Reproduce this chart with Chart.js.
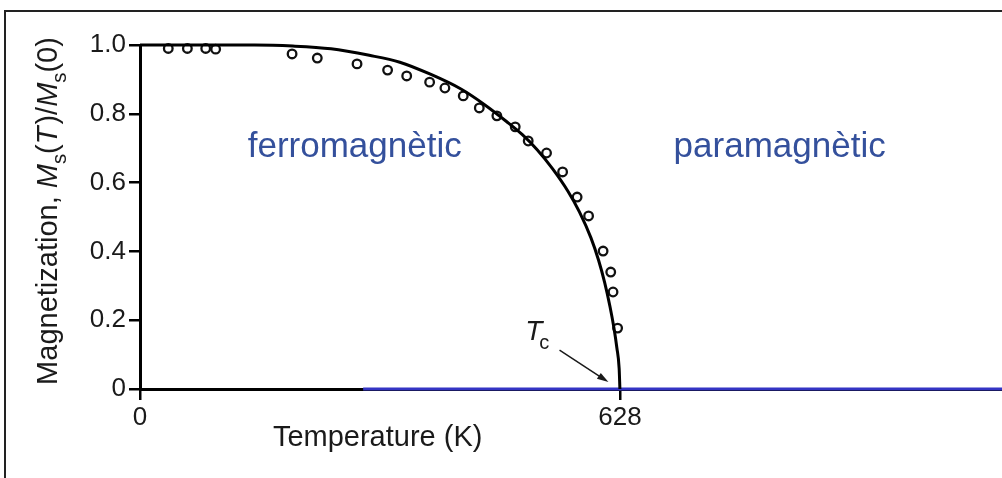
<!DOCTYPE html>
<html>
<head>
<meta charset="utf-8">
<script src="https://cdn.jsdelivr.net/npm/chart.js@4.4.0/dist/chart.umd.min.js"></script>
<style>
  html, body { margin: 0; padding: 0; background: #fff; }
  #wrap { width: 1002px; height: 478px; }
</style>
</head>
<body>
<div id="wrap"><canvas id="magChart" width="1002" height="478"></canvas></div>
<script>
// mesures (cercles): temperatura en K i Ms(T)/Ms(0)
const measuredT = [37, 62, 86, 99, 199, 232, 284, 324, 349, 379, 399, 423, 444, 467, 491, 508, 532, 553, 572, 587, 606, 616, 619, 625];
const measuredM = [0.99, 0.99, 0.99, 0.988, 0.974, 0.962, 0.945, 0.927, 0.910, 0.892, 0.875, 0.852, 0.817, 0.794, 0.762, 0.721, 0.686, 0.631, 0.558, 0.503, 0.401, 0.340, 0.282, 0.177];

// corba teorica
const curveT = [0, 150, 200, 250, 300, 340, 380, 420, 450, 480, 500, 520, 540, 560, 575, 590, 600, 608, 615, 620, 624, 627, 628];
const curveM = [1.0, 1.0, 0.997, 0.989, 0.970, 0.950, 0.915, 0.872, 0.828, 0.777, 0.740, 0.695, 0.640, 0.575, 0.515, 0.440, 0.375, 0.310, 0.240, 0.180, 0.120, 0.060, 0];

// tram paramagnetic (M = 0) sobre l'eix
const paraT = [292, 1128];
const paraM = [0, 0];

const xTicks = [0, 628];
const yTicks = [0, 0.2, 0.4, 0.6, 0.8, 1.0];

const FONT = "'Liberation Sans', Arial, Helvetica, sans-serif";
const BLUE_TEXT = '#34509c';

function pts(xs, ys) {
    return xs.map((x, i) => ({ x: x, y: ys[i] }));
}

// dibuixa text amb trossos en cursiva / subindex
function drawRich(ctx, parts, size) {
    let x = 0;
    parts.forEach(p => {
        const fs = p.sub ? size * 0.7 : size;
        ctx.font = (p.it ? 'italic ' : '') + fs + 'px ' + FONT;
        ctx.fillText(p.t, x, p.sub ? size * 0.3 : 0);
        x += ctx.measureText(p.t).width + (p.gap || 0);
    });
    return x;
}

function richWidth(ctx, parts, size) {
    let w = 0;
    parts.forEach(p => {
        const fs = p.sub ? size * 0.7 : size;
        ctx.font = (p.it ? 'italic ' : '') + fs + 'px ' + FONT;
        w += ctx.measureText(p.t).width + (p.gap || 0);
    });
    return w;
}

const decor = {
    id: 'decor',
    afterDraw(chart) {
        const ctx = chart.ctx;
        const xs = chart.scales.x, ys = chart.scales.y;
        const area = chart.chartArea;
        ctx.save();

        // marc exterior
        ctx.strokeStyle = '#222';
        ctx.lineWidth = 2;
        ctx.beginPath();
        ctx.moveTo(5, 478);
        ctx.lineTo(5, 11);
        ctx.lineTo(1002, 11);
        ctx.stroke();

        // zones
        ctx.fillStyle = BLUE_TEXT;
        ctx.font = '35px ' + FONT;
        ctx.textAlign = 'center';
        ctx.textBaseline = 'alphabetic';
        ctx.fillText('ferromagnètic', xs.getPixelForValue(281), ys.getPixelForValue(0.674));
        ctx.fillText('paramagnètic', xs.getPixelForValue(837), ys.getPixelForValue(0.674));

        // titol eix x
        ctx.fillStyle = '#1a1a1a';
        ctx.font = '29px ' + FONT;
        ctx.fillText('Temperature (K)', xs.getPixelForValue(311), area.bottom + 57);

        // titol eix y
        const yParts = [
            { t: 'Magnetization, ' },
            { t: 'M', it: true },
            { t: 's', sub: true },
            { t: '(' },
            { t: 'T', it: true, gap: 2 },
            { t: ')/' },
            { t: 'M', it: true },
            { t: 's', sub: true },
            { t: '(0)' }
        ];
        const ySize = 29;
        const yw = richWidth(ctx, yParts, ySize);
        ctx.save();
        ctx.translate(area.left - 83, 211 + yw / 2);
        ctx.rotate(-Math.PI / 2);
        ctx.textAlign = 'left';
        drawRich(ctx, yParts, ySize);
        ctx.restore();

        // Tc amb fletxa
        ctx.textAlign = 'left';
        ctx.fillStyle = '#1a1a1a';
        const tcX = xs.getPixelForValue(504), tcY = ys.getPixelForValue(0.142);
        ctx.font = 'italic 28px ' + FONT;
        ctx.fillText('T', tcX, tcY);
        ctx.font = '20px ' + FONT;
        ctx.fillText('c', tcX + 14, tcY + 9);

        const ax0 = xs.getPixelForValue(549), ay0 = ys.getPixelForValue(0.113);
        const ax1 = xs.getPixelForValue(613), ay1 = ys.getPixelForValue(0.02);
        const ang = Math.atan2(ay1 - ay0, ax1 - ax0);
        ctx.strokeStyle = '#1a1a1a';
        ctx.lineWidth = 1.5;
        ctx.beginPath();
        ctx.moveTo(ax0, ay0);
        ctx.lineTo(ax1 - 6 * Math.cos(ang), ay1 - 6 * Math.sin(ang));
        ctx.stroke();
        ctx.beginPath();
        ctx.moveTo(ax1, ay1);
        ctx.lineTo(ax1 - 12 * Math.cos(ang - 0.3), ay1 - 12 * Math.sin(ang - 0.3));
        ctx.lineTo(ax1 - 12 * Math.cos(ang + 0.3), ay1 - 12 * Math.sin(ang + 0.3));
        ctx.closePath();
        ctx.fill();

        ctx.restore();
    }
};

new Chart(document.getElementById('magChart'), {
    type: 'scatter',
    data: {
        datasets: [
            {
                label: 'teoria',
                data: pts(curveT, curveM),
                showLine: true,
                borderColor: '#000',
                borderWidth: 3,
                pointRadius: 0,
                cubicInterpolationMode: 'monotone',
                clip: false
            },
            {
                label: 'paramagnètic',
                data: pts(paraT, paraM),
                showLine: true,
                borderColor: '#3434c4',
                borderWidth: 3,
                pointRadius: 0,
                clip: false
            },
            {
                label: 'mesures',
                data: pts(measuredT, measuredM),
                showLine: false,
                pointRadius: 4.3,
                pointBorderWidth: 2.3,
                pointBorderColor: '#111',
                pointBackgroundColor: 'rgba(255,255,255,0)',
                clip: false
            }
        ]
    },
    options: {
        responsive: false,
        animation: false,
        events: [],
        layout: { autoPadding: false, padding: { left: 0, top: 45, right: 0, bottom: 0 } },
        plugins: { legend: { display: false }, tooltip: { enabled: false } },
        scales: {
            x: {
                type: 'linear',
                min: 0,
                max: 1128,
                afterBuildTicks: s => { s.ticks = xTicks.map(v => ({ value: v })); },
                afterFit: s => { s.height = 89; s.paddingLeft = 0; s.paddingRight = 0; },
                grid: { drawOnChartArea: false, drawTicks: true, tickLength: 11, color: '#000', lineWidth: 2.5 },
                border: { display: true, color: '#000', width: 3 },
                ticks: {
                    color: '#1a1a1a',
                    font: { family: FONT, size: 26 },
                    padding: 2,
                    maxRotation: 0,
                    autoSkip: false,
                    callback: v => String(v)
                }
            },
            y: {
                type: 'linear',
                min: 0,
                max: 1,
                afterBuildTicks: s => { s.ticks = yTicks.map(v => ({ value: v })); },
                afterFit: s => { s.width = 140; s.paddingTop = 0; s.paddingBottom = 0; },
                grid: { drawOnChartArea: false, drawTicks: true, tickLength: 11, color: '#000', lineWidth: 2.5 },
                border: { display: true, color: '#000', width: 3 },
                ticks: {
                    color: '#1a1a1a',
                    font: { family: FONT, size: 26 },
                    padding: 3,
                    autoSkip: false,
                    callback: v => (v === 0 ? '0' : v.toFixed(1))
                }
            }
        }
    },
    plugins: [decor]
});
</script>
</body>
</html>
